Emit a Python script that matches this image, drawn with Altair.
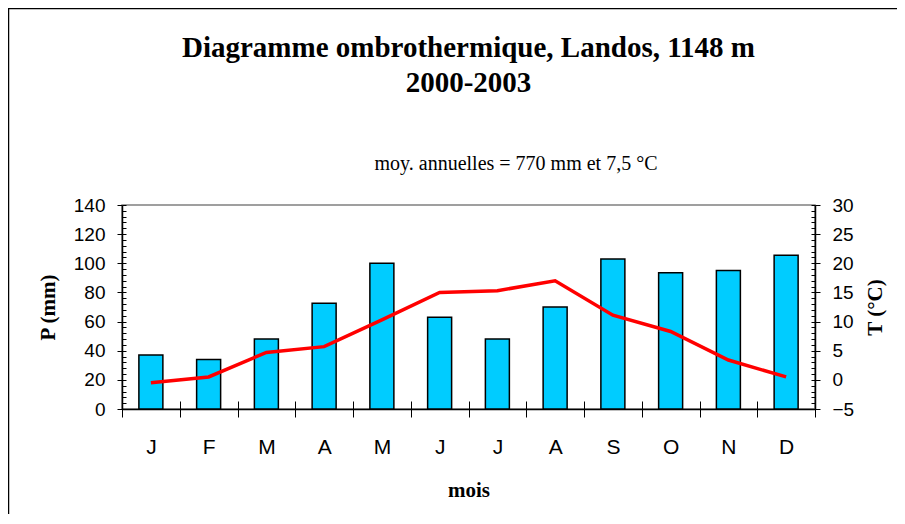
import altair as alt
import pandas as pd

month_labels = ["J", "F", "M", "A", "M", "J", "J", "A", "S", "O", "N", "D"]
precip_mm = [37, 34, 48, 72.5, 100, 63, 48, 70, 103, 93.5, 95, 105.5]
temp_c = [-0.5, 0.5, 4.7, 5.7, 10.3, 15.0, 15.3, 17.0, 11.1, 8.3, 3.4, 0.5]
title_lines = ["Diagramme ombrothermique, Landos, 1148 m", "2000-2003"]
subtitle_text = ["moy. annuelles = 770 mm et 7,5 °C"]

df = pd.DataFrame({"idx": list(range(12)), "P": precip_mm, "T": temp_c})
label_expr = "[" + ",".join(f"'{m}'" for m in month_labels) + "][datum.value]"

xscale = alt.Scale(paddingInner=0, paddingOuter=0)
p_scale = alt.Scale(domain=[0, 140], nice=False)
t_scale = alt.Scale(domain=[-5, 30], nice=False)

SANS = "Liberation Sans"
SERIF = "Liberation Serif"

x_main = alt.X(
    "idx:O", scale=xscale,
    axis=alt.Axis(orient="bottom", title="mois", labelExpr=label_expr, labelAngle=0, tickBand="extent",
                  tickSize=8, tickWidth=1, tickColor="black", domainColor="black", domainWidth=1.5,
                  labelFont=SANS, labelFontSize=21, labelColor="black", labelPadding=19,
                  titleFont=SERIF, titleFontSize=21, titleFontWeight="bold", titleColor="black",
                  titlePadding=22, grid=False),
)

bars = alt.Chart(df).mark_bar(size=24, color="#00CCFF", stroke="black", strokeWidth=1.5).encode(
    x=x_main,
    y=alt.Y("P:Q", scale=p_scale,
            axis=alt.Axis(orient="left", values=list(range(0, 141, 20)), tickSize=5, tickColor="black",
                          domainColor="black", domainWidth=1.5, grid=False,
                          labelFont=SANS, labelFontSize=19, labelColor="black", labelPadding=12,
                          title="P (mm)", titleFont=SERIF, titleFontSize=21, titleFontWeight="bold",
                          titleColor="black", titlePadding=15)),
)

bars_minor = alt.Chart(df).mark_bar(opacity=0).encode(
    x=alt.X("idx:O", scale=xscale,
            axis=alt.Axis(orient="bottom", offset=-8, tickSize=8, tickBand="extent", tickColor="black",
                          labels=False, domain=False, title=None, grid=False)),
    y=alt.Y("P:Q", scale=p_scale,
            axis=alt.Axis(orient="left", offset=-4, values=list(range(0, 141, 4)), tickSize=4,
                          tickColor="black", labels=False, domain=False, title=None, grid=False)),
)

line = alt.Chart(df).mark_line(color="#FF0000", strokeWidth=3.5).encode(
    x=alt.X("idx:O", scale=xscale, axis=None),
    y=alt.Y("T:Q", scale=t_scale,
            axis=alt.Axis(orient="right", values=list(range(-5, 31, 5)), tickSize=5, tickColor="black",
                          domainColor="black", domainWidth=1.5, grid=False,
                          labelFont=SANS, labelFontSize=19, labelColor="black", labelPadding=12,
                          title="T (°C)", titleAngle=270, titleBaseline="top", titleFont=SERIF,
                          titleFontSize=21, titleFontWeight="bold", titleColor="black",
                          titlePadding=11)),
)

line_minor = alt.Chart(df).mark_line(opacity=0).encode(
    x=alt.X("idx:O", scale=xscale, axis=None),
    y=alt.Y("T:Q", scale=t_scale,
            axis=alt.Axis(orient="right", offset=-4, values=list(range(-5, 31, 1)), tickSize=4,
                          tickColor="black", labels=False, domain=False, title=None, grid=False)),
)

one = pd.DataFrame({"a": [0]})
frame_left = alt.Chart(one).mark_rule(color="black", strokeWidth=1.5).encode(
    x=alt.value(-113.5), y=alt.value(-196.5), y2=alt.value(320))
frame_top = alt.Chart(one).mark_rule(color="black", strokeWidth=1.5).encode(
    x=alt.value(-114), x2=alt.value(800), y=alt.value(-196.5))

subtitle = alt.Chart(pd.DataFrame({"s": subtitle_text})).mark_text(
    font=SERIF, fontSize=20, color="black", align="center", baseline="alphabetic"
).encode(x=alt.value(394), y=alt.value(-35), text="s:N")

chart = alt.layer(bars_minor, line_minor, bars, line, frame_left, frame_top, subtitle).resolve_scale(
    y="independent"
).resolve_axis(
    x="independent", y="independent"
).properties(
    width=693, height=204,
    autosize=alt.AutoSizeParams(type="none"),
    padding={"left": 114, "top": 197, "right": 82, "bottom": 105},
    title=alt.Title(
        text=title_lines,
        font=SERIF, fontSize=29, fontWeight="bold", lineHeight=35, color="black",
        anchor="middle", offset=-90,
    ),
).configure_view(stroke="#808080", strokeWidth=1.5)

chart.save("out.html", embed_options={"renderer": "svg", "actions": False})
